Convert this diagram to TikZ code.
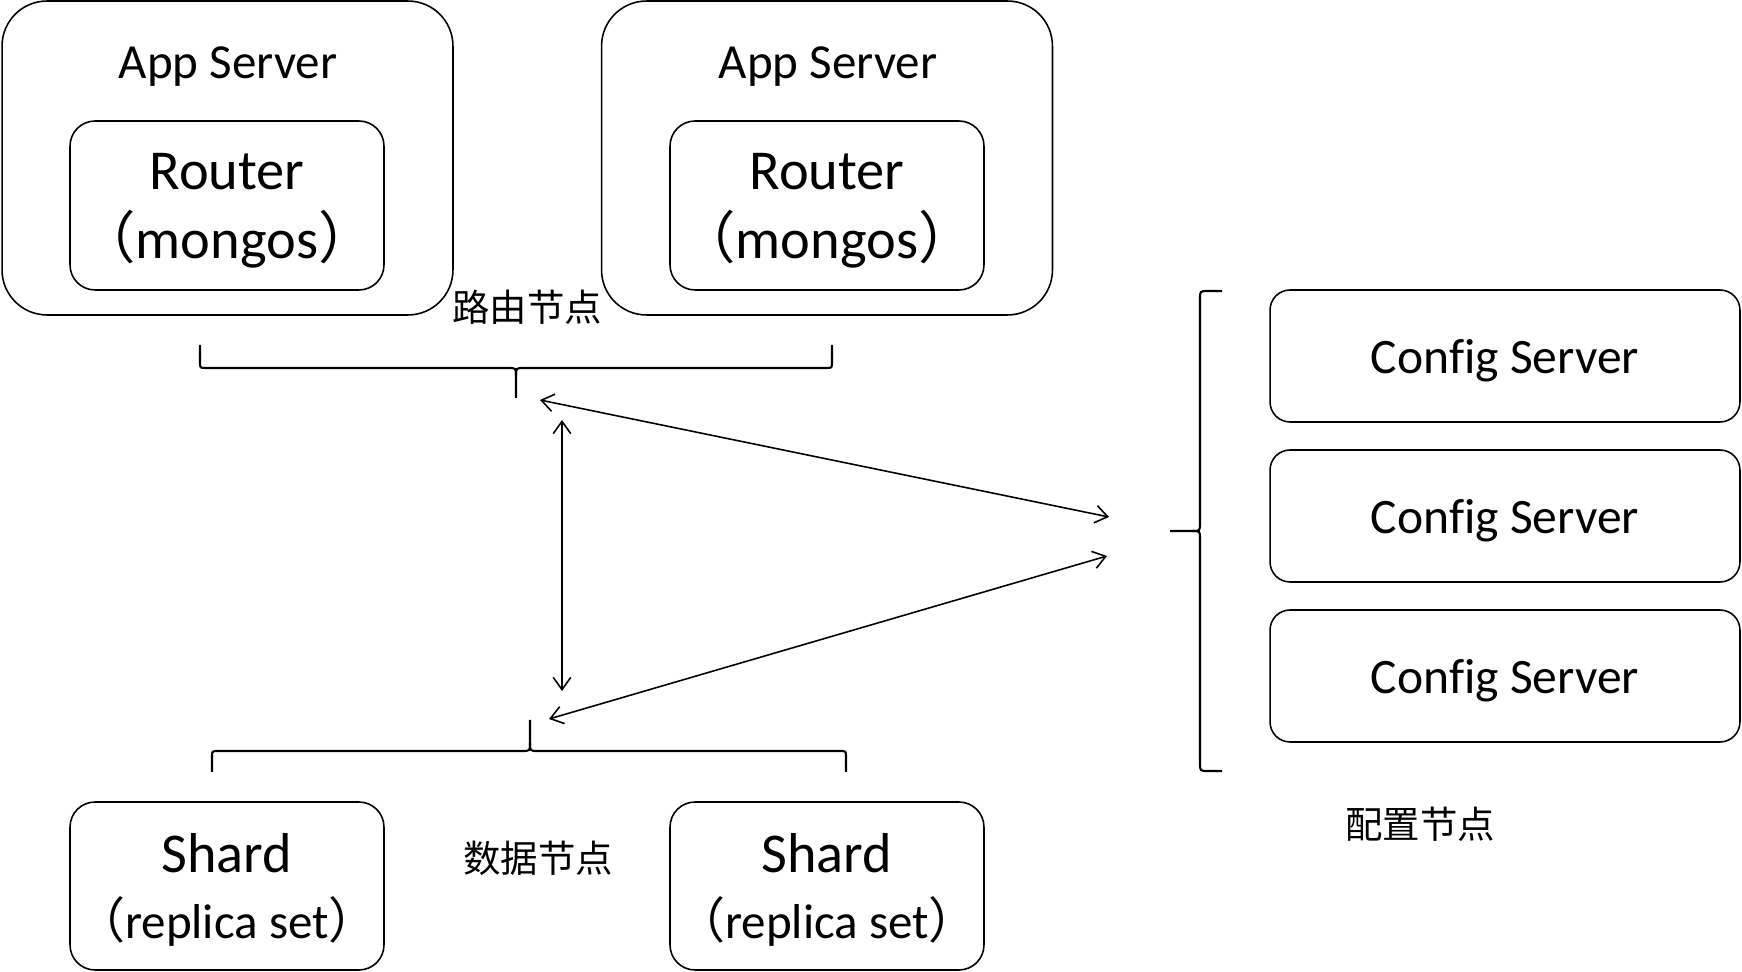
\documentclass[tikz,border=0pt]{standalone}
\usepackage{fontspec}
\setmainfont[Ligatures=NoCommon]{Carlito}
\newfontfamily\cjk{Noto Sans CJK SC}
\usetikzlibrary{arrows.meta}

\newcommand{\lp}{{\cjk （}}
\newcommand{\rp}{{\cjk ）}}

\begin{document}
\begin{tikzpicture}[x=0.02cm, y=-0.02cm,
    appbox/.style={draw, line width=0.9pt, rounded corners=0.9cm,
        minimum width=9.02cm, minimum height=6.28cm},
    inbox/.style={draw, line width=0.9pt, rounded corners=0.5cm, align=center,
        minimum width=6.28cm, minimum height=3.38cm, inner sep=0pt, text depth=0pt},
    cfgbox/.style={draw, line width=0.9pt, rounded corners=0.4cm,
        minimum width=9.4cm, minimum height=2.64cm, text height=25.2pt,
        font=\fontsize{28.2}{34}\selectfont},
    title/.style={font=\fontsize{27.9}{34}\selectfont},
    tag/.style={font=\cjk\fontsize{21.3}{26}\selectfont},
    brc/.style={line width=1.2pt},
    link/.style={line width=0.9pt, {Straight Barb[length=7pt,width=10pt]}-{Straight Barb[length=7pt,width=10pt]}}]
    
    \useasboundingbox (0,0) rectangle (1742,972);
    
    % app servers with routers
    \node[appbox] (app1) at (227.5,158) {};
    \node[appbox] (app2) at (827,158) {};
    \node[title] (t1) at (228,67) {App Server};
    \node[title] (t2) at (828,67) {App Server};
    \node[inbox, font=\fontsize{32.1}{39.3}\selectfont] (r1) at (227,205.5) {Router\\\lp mongos\rp};
    \node[inbox, font=\fontsize{32.1}{39.3}\selectfont] (r2) at (827,205.5) {Router\\\lp mongos\rp};
    \node[tag] (lr) at (527,307) {路由节点};
    
    % shards
    \node[inbox, minimum height=3.36cm, font=\fontsize{27.9}{37.5}\selectfont] (s1) at (227,886)
        {{\fontsize{32}{38}\selectfont Shard}\\\lp replica set\rp};
    \node[inbox, minimum height=3.36cm, font=\fontsize{27.9}{37.5}\selectfont] (s2) at (827,886)
        {{\fontsize{32}{38}\selectfont Shard}\\\lp replica set\rp};
    \node[tag] (ls) at (538,858) {数据节点};
    
    % config servers
    \node[cfgbox] (c1) at (1505,356) {Config Server};
    \node[cfgbox] (c2) at (1505,516) {Config Server};
    \node[cfgbox] (c3) at (1505,676) {Config Server};
    \node[tag] (lc) at (1420,824) {配置节点};
    
    % braces
    \draw[brc] (200,345) -- (200,362) .. controls (200,368) .. (206,368) -- (508,368)
        .. controls (516,368) .. (516,376) -- (516,398);
    \draw[brc] (516,376) .. controls (516,368) .. (524,368) -- (826,368)
        .. controls (832,368) .. (832,362) -- (832,345);
    
    \draw[brc] (212,772) -- (212,757) .. controls (212,751) .. (218,751) -- (522,751)
        .. controls (530,751) .. (530,743) -- (530,720);
    \draw[brc] (530,743) .. controls (530,751) .. (538,751) -- (840,751)
        .. controls (846,751) .. (846,757) -- (846,772);
    
    \draw[brc] (1222,291) -- (1208,291) .. controls (1200,291) .. (1200,299) -- (1200,523)
        .. controls (1200,531) .. (1192,531) -- (1170,531);
    \draw[brc] (1192,531) .. controls (1200,531) .. (1200,539) -- (1200,763)
        .. controls (1200,771) .. (1208,771) -- (1222,771);
    
    % arrow ends
    \coordinate (rt) at (540,400);
    \coordinate (vt) at (562,420);
    \coordinate (vb) at (562,691);
    \coordinate (st) at (549,719);
    \coordinate (cu) at (1109,517);
    \coordinate (cl) at (1107,556);
    
    \draw[link] (rt) -- (cu);
    \draw[link] (vt) -- (vb);
    \draw[link] (st) -- (cl);
\end{tikzpicture}
\end{document}
